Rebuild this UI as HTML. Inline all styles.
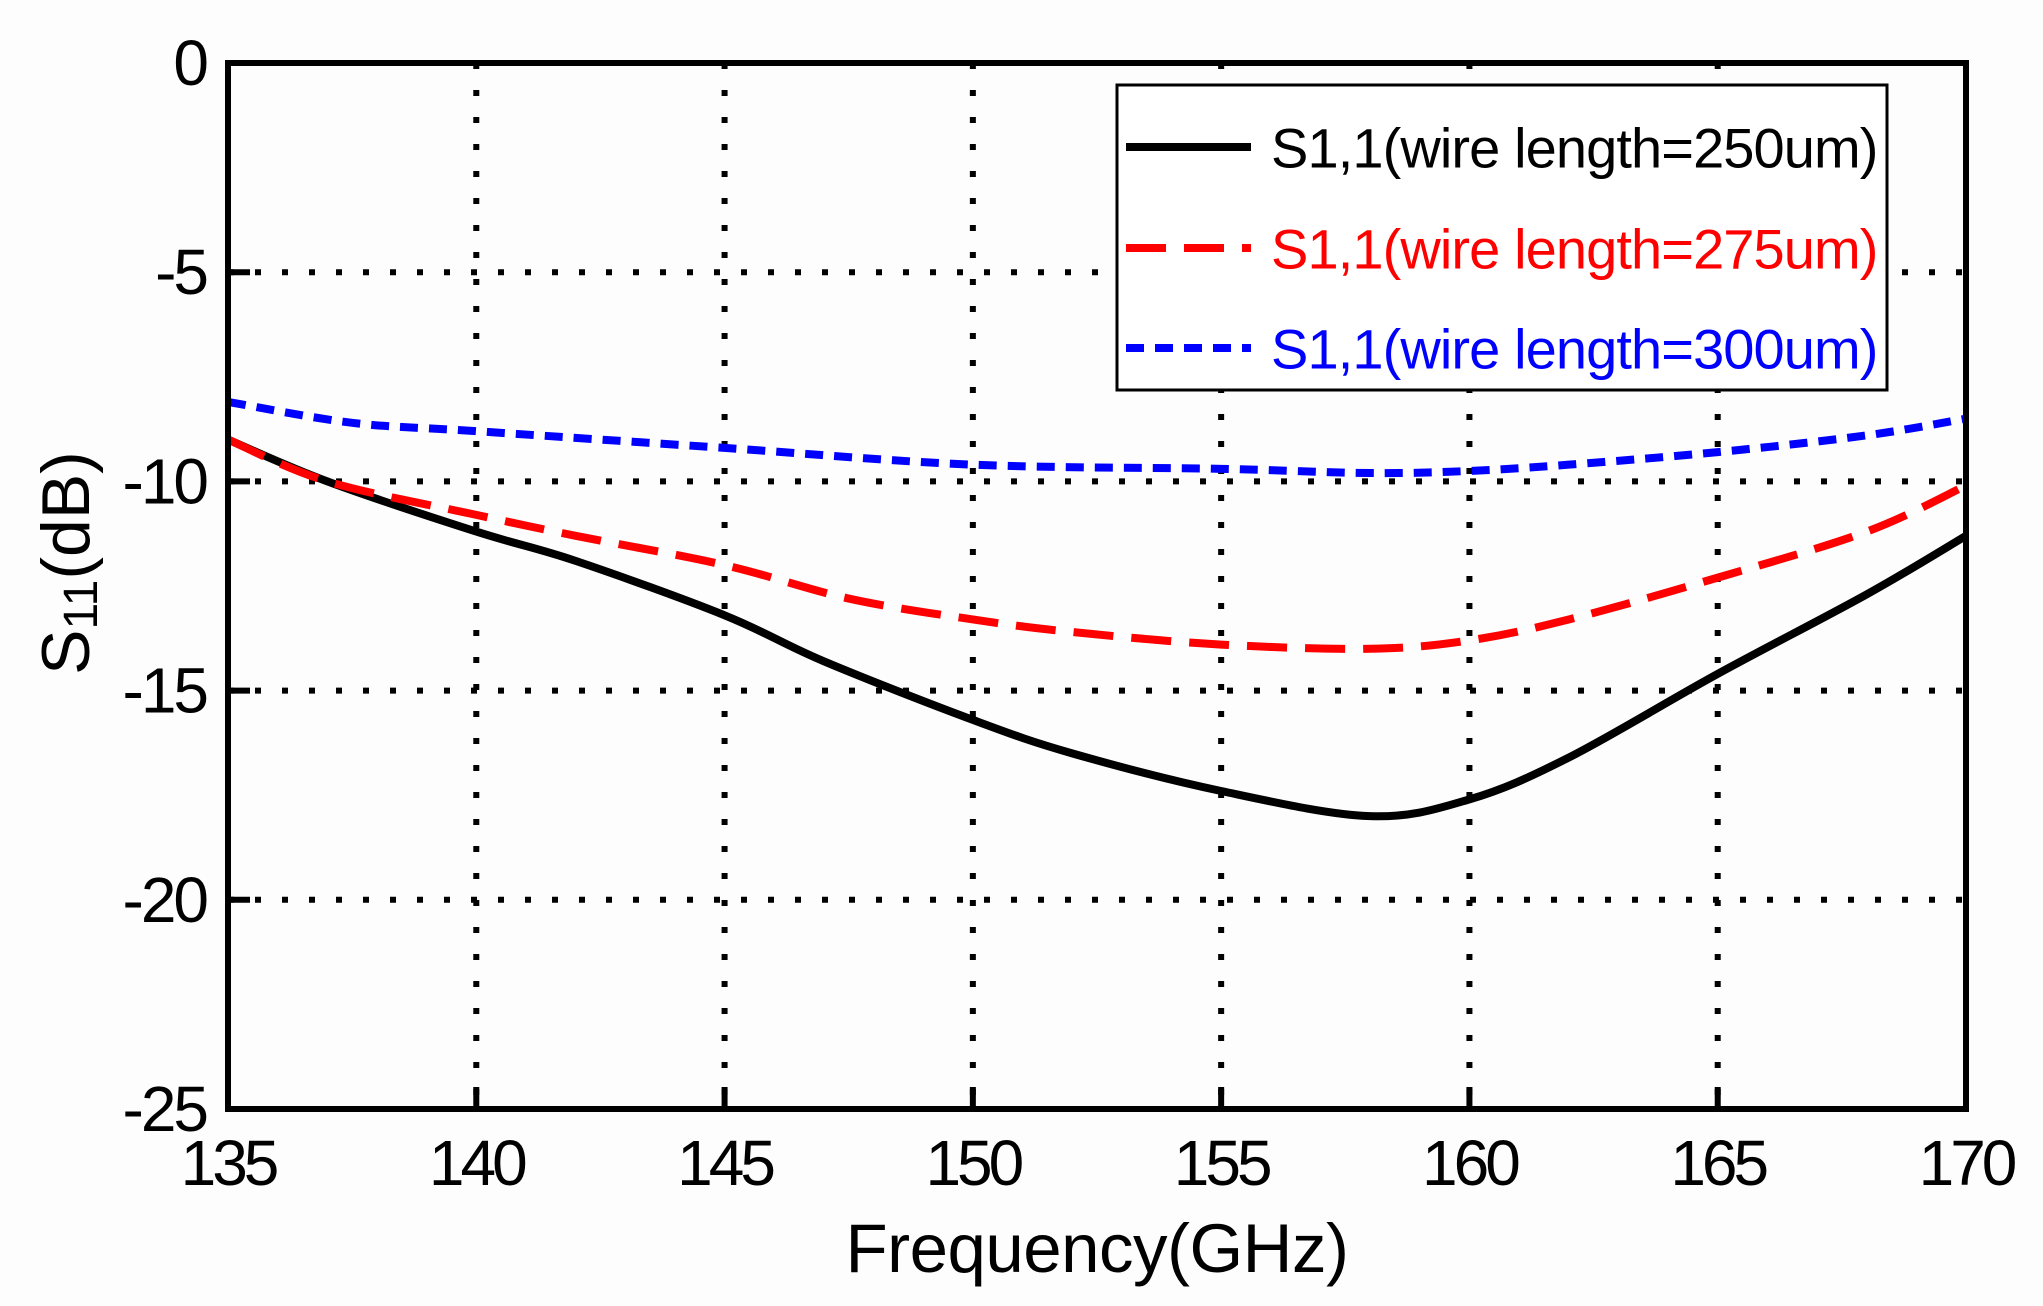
<!DOCTYPE html>
<html><head><meta charset="utf-8"><style>
html,body{margin:0;padding:0;background:#fdfdfd;}
svg{display:block;font-family:"Liberation Sans",Arial,sans-serif;}
</style></head><body>
<svg id="chart" width="2043" height="1306" viewBox="0 0 2043 1306" xmlns="http://www.w3.org/2000/svg">
<rect x="0" y="0" width="2043" height="1306" fill="#fdfdfd"/>
<g id="grid"></g>
<g id="series"></g>
<rect x="228" y="63" width="1738" height="1046" fill="none" stroke="#000" stroke-width="6"/>
<g id="ticks"></g>
<text x="1097" y="1272" font-size="69" letter-spacing="-0.5" text-anchor="middle">Frequency(GHz)</text>
<text transform="translate(66,563) rotate(-90)" font-size="68" text-anchor="middle" dominant-baseline="central">S<tspan font-size="48" dy="15">11</tspan><tspan dy="-15">(dB)</tspan></text>
<g>
<rect x="1117" y="85" width="770" height="305" fill="#fff" stroke="#000" stroke-width="3"/>
<line x1="1126" y1="147" x2="1251" y2="147" stroke="#000" stroke-width="8"/>
<text x="1271" y="148" font-size="56" letter-spacing="-0.9" dominant-baseline="central" fill="#000">S1,1(wire length=250um)</text>
<line x1="1126" y1="248" x2="1251" y2="248" stroke="#f00" stroke-width="8" stroke-dasharray="40 18"/>
<text x="1271" y="249" font-size="56" letter-spacing="-0.9" dominant-baseline="central" fill="#f00">S1,1(wire length=275um)</text>
<line x1="1126" y1="348" x2="1251" y2="348" stroke="#00f" stroke-width="8" stroke-dasharray="18 11"/>
<text x="1271" y="349" font-size="56" letter-spacing="-0.9" dominant-baseline="central" fill="#00f">S1,1(wire length=300um)</text>
</g>
</svg>
<script>
const xTicks=[135,140,145,150,155,160,165,170];
const yTicks=[0,-5,-10,-15,-20,-25];
const freqs250=[135,137,140,142,145,147,150,152,155,158,160,162,165,168,170];
const s250=[-9,-10,-11.2,-11.9,-13.2,-14.3,-15.7,-16.5,-17.4,-18.0,-17.6,-16.6,-14.6,-12.7,-11.3];
const freqs275=[135,137,140,142,145,147.5,150,152,155,158,160,162,165,168,170];
const s275=[-9,-10,-10.8,-11.3,-12,-12.8,-13.3,-13.6,-13.9,-14.0,-13.8,-13.3,-12.3,-11.2,-10.1];
const freqs300=[135,137.5,140,145,150,155,158,160,162,165,168,170];
const s300=[-8.1,-8.6,-8.8,-9.2,-9.6,-9.7,-9.8,-9.75,-9.6,-9.3,-8.9,-8.5];
const X0=228,X1=1966,Y0=63,Y1=1109;
const xs=v=>X0+(v-135)/35*(X1-X0);
const ys=v=>Y0+(0-v)/25*(Y1-Y0);
const NS="http://www.w3.org/2000/svg";
function mk(tag,attrs,parent){const e=document.createElementNS(NS,tag);for(const k in attrs)e.setAttribute(k,attrs[k]);parent.appendChild(e);return e;}
const grid=document.getElementById('grid'),ticks=document.getElementById('ticks'),series=document.getElementById('series');
xTicks.forEach(t=>{
  const x=xs(t);
  if(t!==135&&t!==170){const l=mk('line',{x1:x,y1:Y0,x2:x,y2:Y1,stroke:'#000','stroke-width':6,'stroke-dasharray':'6 21'},grid);
  
  
  const tk=mk('line',{x1:x,y1:Y1,x2:x,y2:Y1-22,stroke:'#000','stroke-width':6},ticks);
  
  }
  const tx=mk('text',{x:x,y:1185,'font-size':64,'letter-spacing':-4,'text-anchor':'middle'},ticks);tx.textContent=t;
  
  
});
yTicks.forEach(t=>{
  const y=ys(t);
  if(t!==0&&t!==-25){const l=mk('line',{x1:X0,y1:y,x2:X1,y2:y,stroke:'#000','stroke-width':6,'stroke-dasharray':'6 21'},grid);
  
  
  const tk=mk('line',{x1:X0,y1:y,x2:X0+22,y2:y,stroke:'#000','stroke-width':6},ticks);
  
  }
  const tx=mk('text',{x:206,y:y,'font-size':64,'letter-spacing':-3,'text-anchor':'end','dominant-baseline':'central'},ticks);tx.textContent=t;
  
  
});
function pathD(fx,fy){
  const p=fx.map((f,i)=>[xs(f),ys(fy[i])]);
  let d=`M${p[0][0]},${p[0][1]}`;
  for(let i=0;i<p.length-1;i++){
    const p0=p[i-1]||p[i],p1=p[i],p2=p[i+1],p3=p[i+2]||p2;
    const c1=[p1[0]+(p2[0]-p0[0])/6,p1[1]+(p2[1]-p0[1])/6];
    const c2=[p2[0]-(p3[0]-p1[0])/6,p2[1]-(p3[1]-p1[1])/6];
    d+=` C${c1[0]},${c1[1]} ${c2[0]},${c2[1]} ${p2[0]},${p2[1]}`;
  }
  return d;
}
const s1=mk('path',{d:pathD(freqs300,s300),fill:'none',stroke:'#00f','stroke-width':8,'stroke-dasharray':'18 11'},series);


const s3=mk('path',{d:pathD(freqs250,s250),fill:'none',stroke:'#000','stroke-width':8},series);


const s2=mk('path',{d:pathD(freqs275,s275),fill:'none',stroke:'#f00','stroke-width':8,'stroke-dasharray':'40 18'},series);


</script>
</body></html>
